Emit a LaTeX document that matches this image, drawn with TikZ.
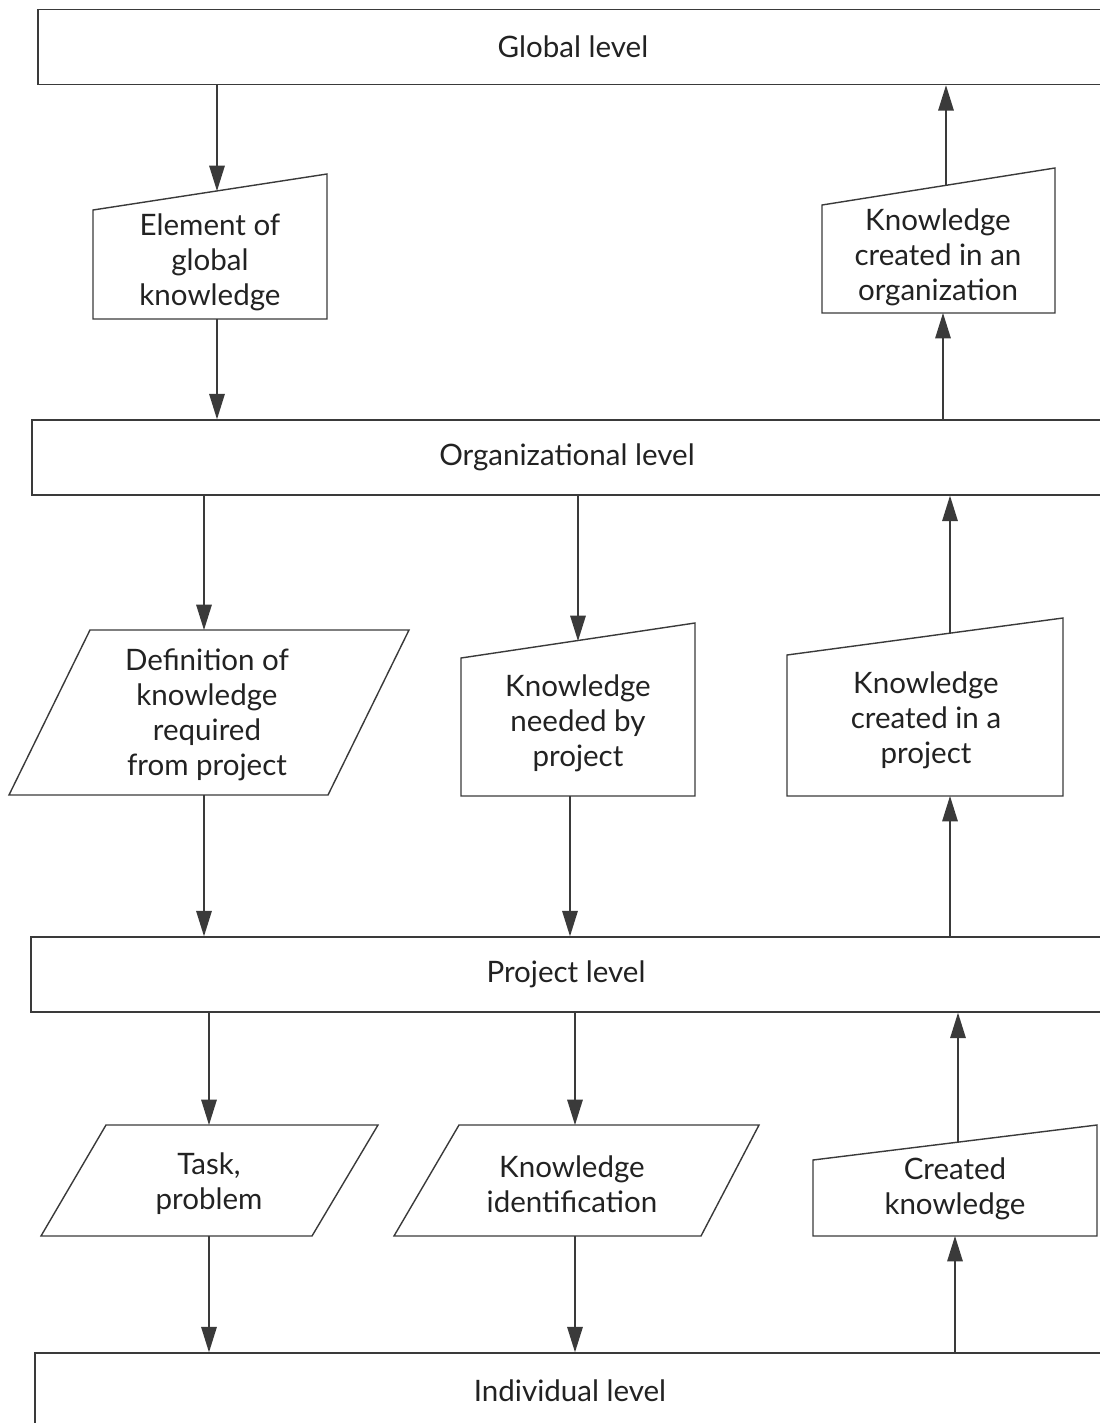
\documentclass[tikz,border=0pt]{standalone}
\usepackage{fontspec}
\setmainfont{Lato}
\usetikzlibrary{arrows.meta, positioning}

\definecolor{edgegray}{HTML}{3A3A3A}
\definecolor{ink}{HTML}{222222}

\begin{document}
\begin{tikzpicture}[x=0.025cm, y=-0.025cm,
    txt/.style={align=center, text=ink, font=\fontsize{21}{25}\selectfont},
    level/.style={txt, draw=edgegray, line width=1pt, minimum width=26.75cm,
        minimum height=1.875cm, inner sep=0pt},
    box/.style={draw=edgegray, line width=1pt},
    flow/.style={draw=edgegray, line width=1pt, -{Triangle[length=18pt, width=11pt]}}]
    \useasboundingbox (0,0) rectangle (1100,1423);

    % the four levels
    \node [level] (global) at (573,47) {Global level};
    \node [level] (org) at (567,457.5) {Organizational level};
    \node [level] (proj) at (566,974.5) {Project level};
    \node [level] (indiv) at (570,1390.5) {Individual level};

    % global -> organization
    \draw[box] (93,319) -- (327,319) -- (327,174) -- (93,210) -- cycle;
    \node [txt] (elem) at (210,262) {Element of\\global\\knowledge};
    \coordinate (elem-in) at (217,191);
    \coordinate (elem-out) at (217,319);

    \draw[box] (822,313) -- (1055,313) -- (1055,168) -- (822,205) -- cycle;
    \node [txt] (orgnew) at (938,257) {Knowledge\\created in an\\organization};
    \coordinate (orgnew-in) at (943,313);
    \coordinate (orgnew-out) at (946,185);

    % organization -> project
    \draw[box] (9,795) -- (328,795) -- (409,630) -- (90,630) -- cycle;
    \node [txt] (defn) at (207,715) {Definition of\\knowledge\\required\\from project};
    \coordinate (defn-in) at (204,630);
    \coordinate (defn-out) at (204,795);

    \draw[box] (461,796) -- (695,796) -- (695,623) -- (461,658) -- cycle;
    \node [txt] (needed) at (578,723) {Knowledge\\needed by\\project};
    \coordinate (needed-in) at (578,641);
    \coordinate (needed-out) at (570,796);

    \draw[box] (787,796) -- (1063,796) -- (1063,618) -- (787,655) -- cycle;
    \node [txt] (projnew) at (926,720) {Knowledge\\created in a\\project};
    \coordinate (projnew-in) at (950,796);
    \coordinate (projnew-out) at (950,633);

    % project -> individual
    \draw[box] (41,1236) -- (312,1236) -- (378,1125) -- (106,1125) -- cycle;
    \node [txt] (task) at (209,1184) {Task,\\problem};
    \coordinate (task-in) at (209,1125);
    \coordinate (task-out) at (209,1236);

    \draw[box] (394,1236) -- (701,1236) -- (759,1125) -- (459,1125) -- cycle;
    \node [txt] (ident) at (572,1184) {Knowledge\\identification};
    \coordinate (ident-in) at (575,1125);
    \coordinate (ident-out) at (575,1236);

    \draw[box] (813,1236) -- (1097,1236) -- (1097,1125) -- (813,1160) -- cycle;
    \node [txt] (created) at (955,1189) {Created\\knowledge};
    \coordinate (created-in) at (955,1236);
    \coordinate (created-out) at (958,1142);

    % downward flow
    \draw[flow] (global.south -| elem-in) -- (elem-in);
    \draw[flow] (elem-out) -- (elem-out |- org.north);
    \draw[flow] (org.south -| defn-in) -- (defn-in);
    \draw[flow] (defn-out) -- (defn-out |- proj.north);
    \draw[flow] (org.south -| needed-in) -- (needed-in);
    \draw[flow] (needed-out) -- (needed-out |- proj.north);
    \draw[flow] (proj.south -| task-in) -- (task-in);
    \draw[flow] (task-out) -- (task-out |- indiv.north);
    \draw[flow] (proj.south -| ident-in) -- (ident-in);
    \draw[flow] (ident-out) -- (ident-out |- indiv.north);

    % upward flow
    \draw[flow] (indiv.north -| created-in) -- (created-in);
    \draw[flow] (created-out) -- (created-out |- proj.south);
    \draw[flow] (proj.north -| projnew-in) -- (projnew-in);
    \draw[flow] (projnew-out) -- (projnew-out |- org.south);
    \draw[flow] (org.north -| orgnew-in) -- (orgnew-in);
    \draw[flow] (orgnew-out) -- (orgnew-out |- global.south);
\end{tikzpicture}
\end{document}
